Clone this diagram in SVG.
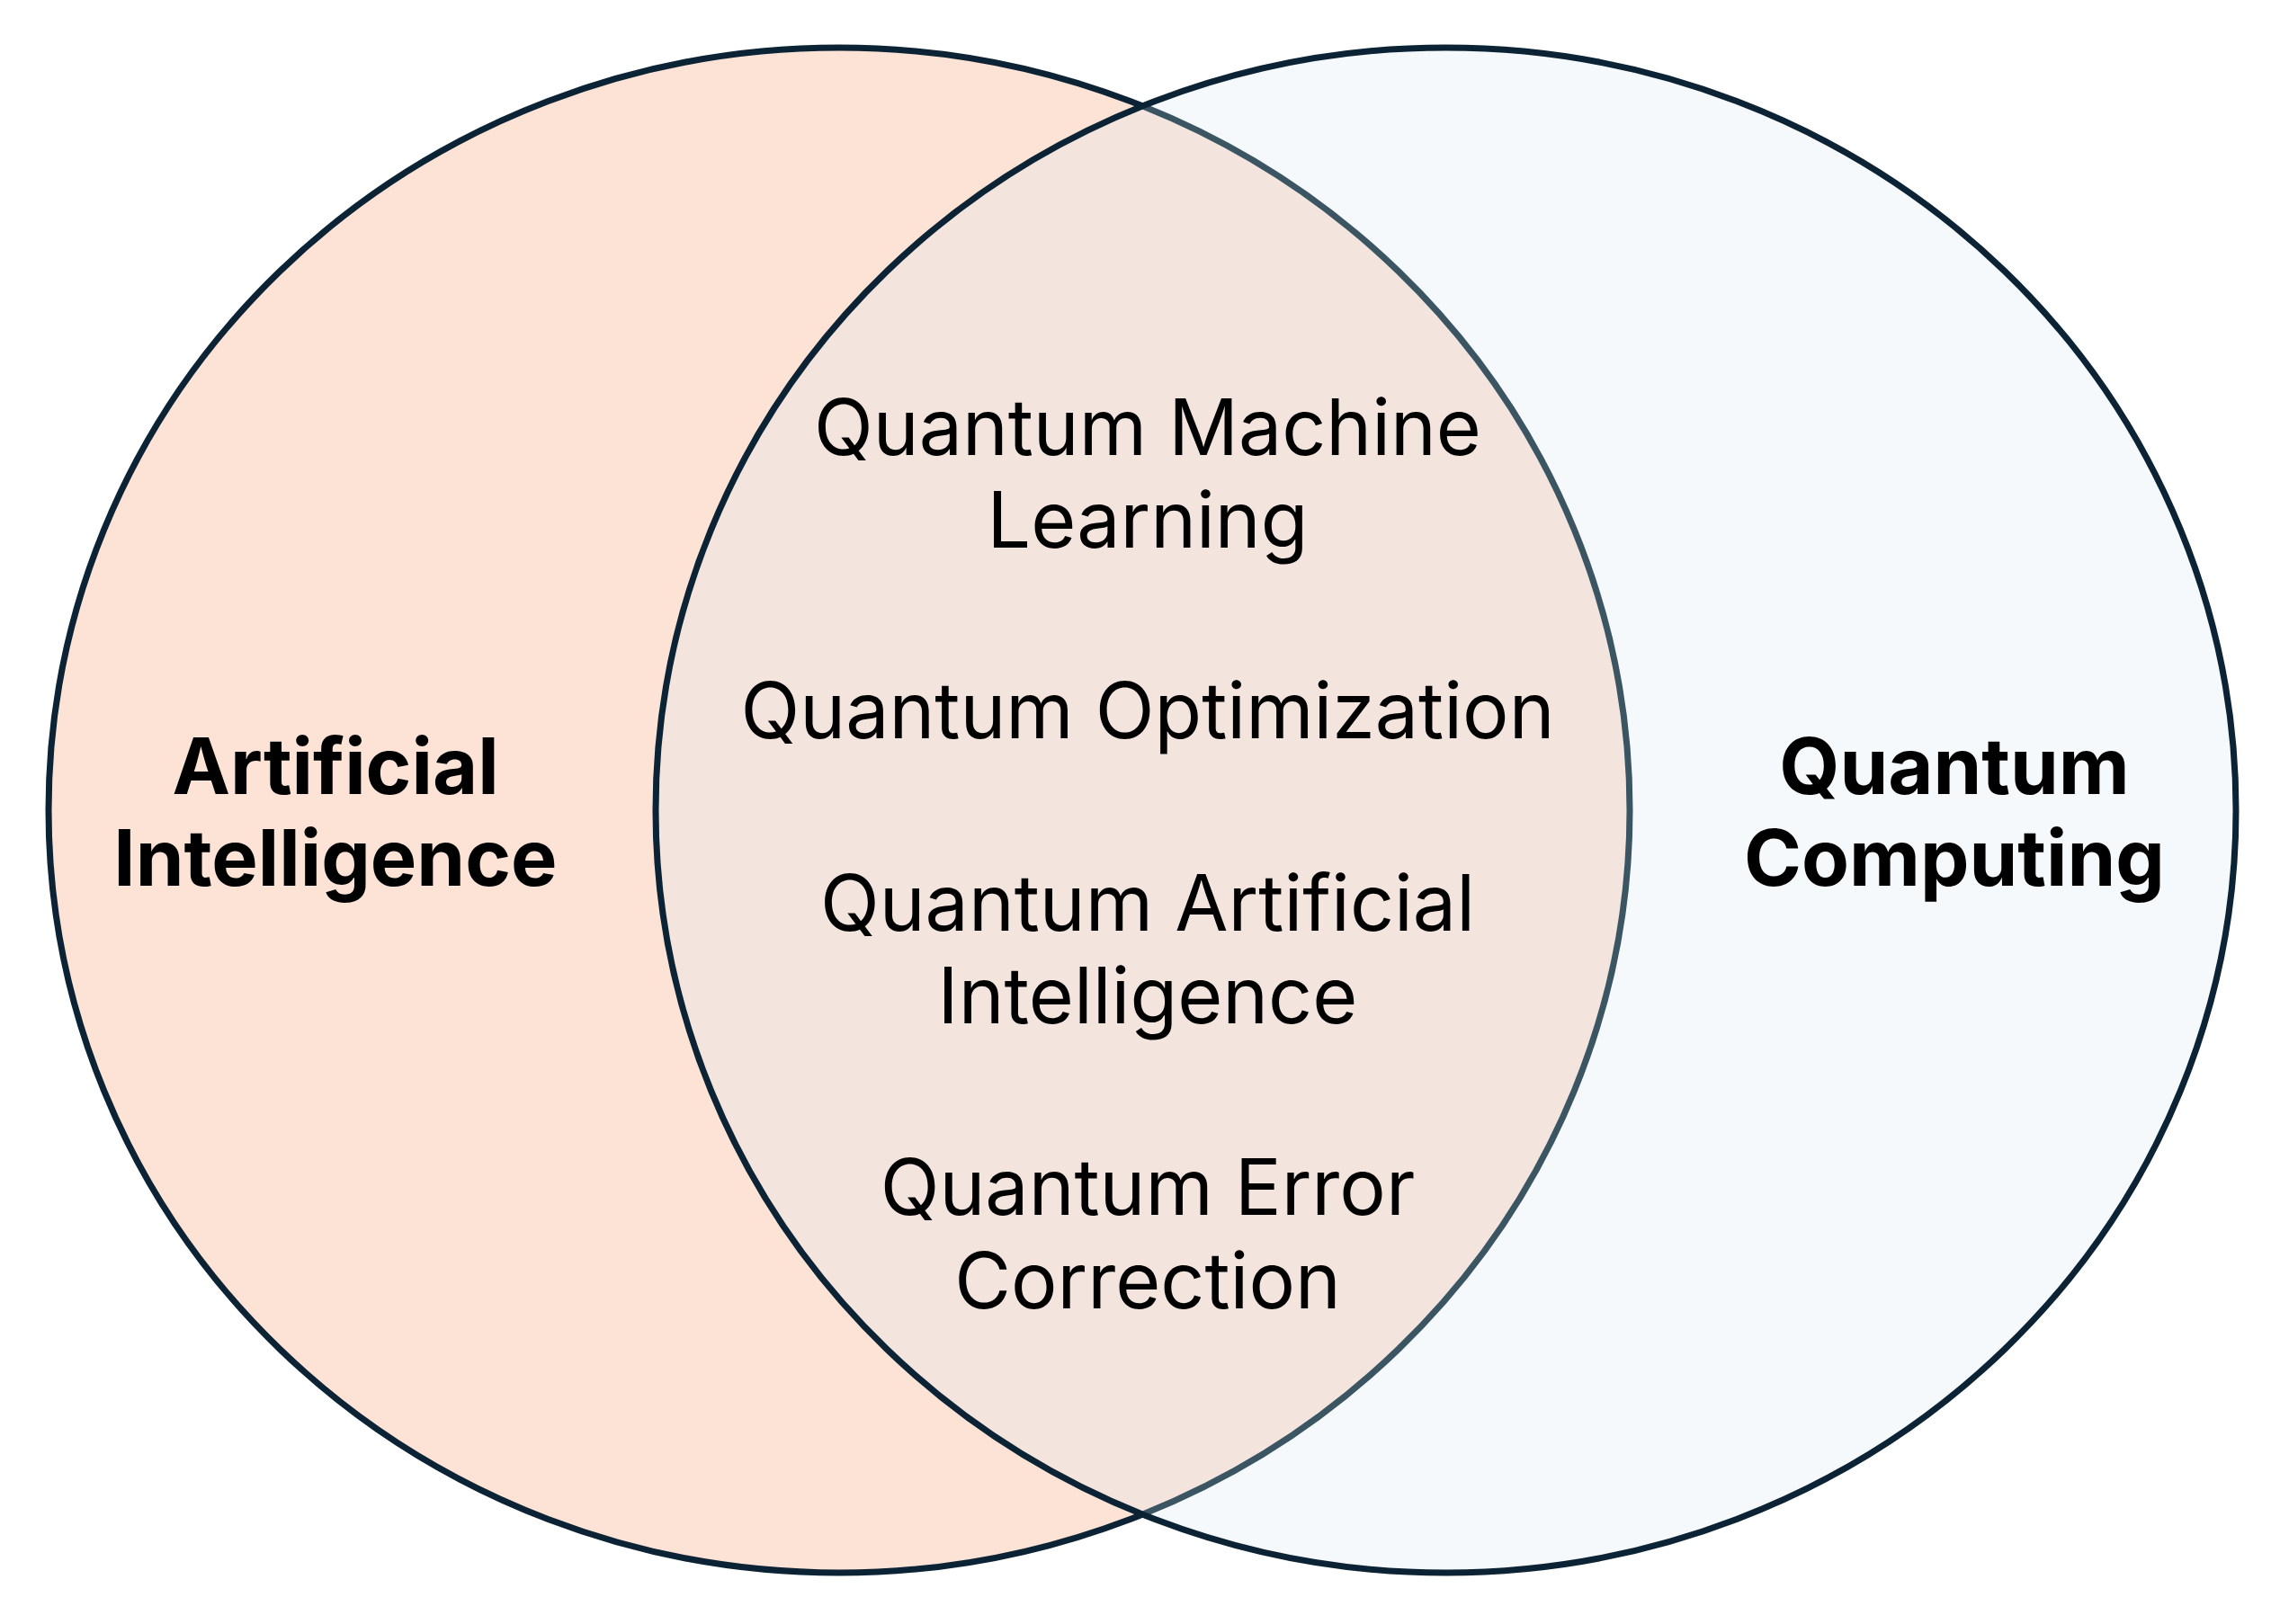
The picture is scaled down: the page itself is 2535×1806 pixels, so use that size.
<svg xmlns="http://www.w3.org/2000/svg" width="2535" height="1806" viewBox="0 0 2535 1806">
<style>
.lbl{font-family:Inter,"Noto Sans","Liberation Sans",sans-serif;font-size:86px;fill:#000;text-anchor:middle}
.b{font-weight:700;font-size:86.5px}
</style>
<defs>
<clipPath id="inR"><ellipse cx="1607.5" cy="901" rx="878.5" ry="848"/></clipPath>
</defs>
<rect width="2535" height="1806" fill="#fff"/>
<g id="ai">
<ellipse cx="933" cy="901" rx="879" ry="848" fill="#fce3d6" stroke="#0b2334" stroke-width="7"/>
</g>
<g id="qc">
<ellipse cx="1607.5" cy="901" rx="878.5" ry="848" fill="#f5f9fc"/>
<ellipse cx="933" cy="901" rx="879" ry="848" fill="#f3e5de" stroke="#3b5563" stroke-width="7" clip-path="url(#inR)"/>
<ellipse cx="1607.5" cy="901" rx="878.5" ry="848" fill="none" stroke="#0b2334" stroke-width="7"/>
</g>
<g id="labels">
<text class="lbl b" x="373" y="883">Artificial</text>
<text class="lbl b" x="373" y="985">Intelligence</text>
<text class="lbl b" x="2173" y="883">Quantum</text>
<text class="lbl b" x="2173" y="985">Computing</text>
<text class="lbl" x="1276" y="506">Quantum Machine</text>
<text class="lbl" x="1276" y="609">Learning</text>
<text class="lbl" x="1276" y="821">Quantum Optimization</text>
<text class="lbl" x="1276" y="1035">Quantum Artificial</text>
<text class="lbl" x="1276" y="1138">Intelligence</text>
<text class="lbl" x="1276" y="1351">Quantum Error</text>
<text class="lbl" x="1276" y="1455">Correction</text>
</g>
</svg>
